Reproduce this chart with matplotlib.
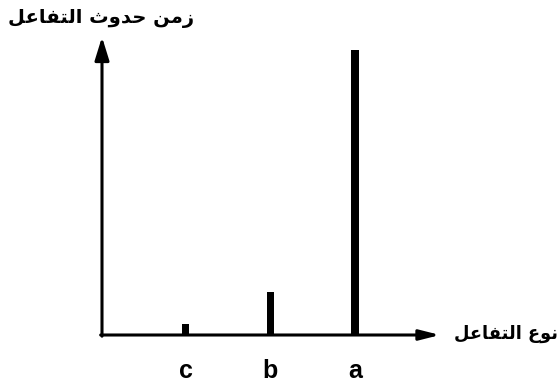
import matplotlib
matplotlib.use("Agg")
import matplotlib.pyplot as plt
import matplotlib.transforms as mtransforms

# Data
categories = ["c", "b", "a"]
values = [0.4, 1.5, 10.0]
# Arabic labels (visual order, presentation forms since matplotlib does not shape Arabic)
y_title = "\uFEDE\uFECB\uFE8E\uFED4\uFE98\uFEDF\uFE8D \uFE99\uFEED\uFEAA\uFEA3 \uFEE6\uFEE3\uFEAF"  # زمن حدوث التفاعل
x_title = "\uFEDE\uFECB\uFE8E\uFED4\uFE98\uFEDF\uFE8D \uFEC9\uFEEE\uFEE7"  # نوع التفاعل

W, H = 560, 386
fig = plt.figure(figsize=(W / 100, H / 100), dpi=100)
x0, y0 = 102, 335      # axes origin in pixels (from top)
x1, ytop = 440, 37     # arrow tips
ax = fig.add_axes([x0 / W, (H - y0) / H, (x1 - x0) / W, (y0 - ytop) / H])
ax.set_xlim(-0.99, (x1 - 186) / 84.5)
ax.set_ylim(0, 10.46)
for s in ax.spines.values():
    s.set_visible(False)
ax.set_xticks([])
ax.set_yticks([])
ax.patch.set_alpha(0)

ax.bar(range(len(categories)), values, width=0.088, color="black", zorder=3)

y_arrow = dict(arrowstyle="-|>,head_length=1.0,head_width=0.31", lw=2.2, color="black",
               shrinkA=0, shrinkB=0, mutation_scale=14)
x_arrow = dict(arrowstyle="-|>,head_length=0.87,head_width=0.22", lw=2.2, color="black",
               shrinkA=0, shrinkB=0, mutation_scale=14)
ax.annotate("", xy=(0, 1), xytext=(0, -0.004), xycoords="axes fraction",
            arrowprops=y_arrow, annotation_clip=False)
ax.annotate("", xy=(1, 0), xytext=(-0.004, 0), xycoords="axes fraction",
            arrowprops=x_arrow, annotation_clip=False)

trans = mtransforms.blended_transform_factory(ax.transData, fig.transFigure)
for i, c in enumerate(categories):
    ax.text(i, 1 - 378 / H, c, transform=trans, ha="center",
            va="baseline", fontsize=18, fontweight="bold", family="Liberation Sans")

fig.text(101 / W, 1 - 19 / H, y_title, ha="center", va="center", fontsize=14,
         fontweight="bold", family=["DejaVu Sans"])
fig.text(558 / W, 1 - 334 / H, x_title, ha="right", va="center", fontsize=12.8,
         fontweight="bold", family=["DejaVu Sans"])

fig.savefig("out.png", dpi=100)
